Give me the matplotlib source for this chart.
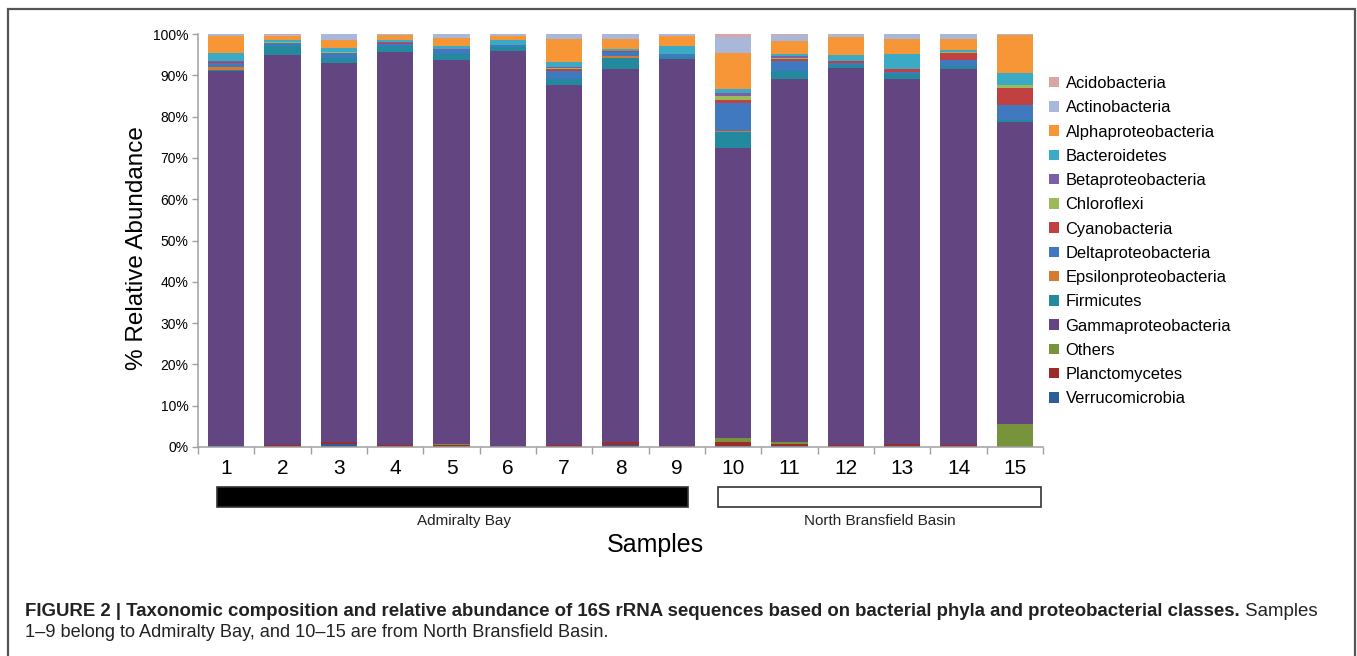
import matplotlib
matplotlib.use('Agg')
import matplotlib.pyplot as plt
import matplotlib.transforms as mtransforms
from matplotlib.patches import Patch, Rectangle
import numpy as np

plt.rcParams['font.family'] = ['Liberation Sans', 'DejaVu Sans']

# samples 1-15
samples = [str(i) for i in range(1, 16)]

# relative abundance (%) per taxon, bottom of the stack first
verrucomicrobia = [0.3, 0, 0.7, 0, 0, 0, 0, 0.5, 0, 0.3, 0.3, 0, 0.2, 0, 0]
planctomycetes = [0, 0.5, 0.4, 0.4, 0.5, 0, 0.4, 0.6, 0.3, 0.8, 0.5, 0.6, 0.5, 0.5, 0]
others = [0, 0, 0, 0, 0.3, 0, 0, 0, 0, 1.1, 0.3, 0, 0, 0, 5.5]
gammaproteobacteria = [90.7, 94.3, 91.9, 95.2, 92.8, 95.8, 87.3, 90.5, 93.6, 70.2, 88.0, 91.2, 88.4, 91.1, 73.3]
firmicutes = [0.3, 2.2, 1.2, 1.4, 1.5, 1.0, 1.5, 2.7, 0.6, 3.9, 2.0, 0.8, 1.1, 0.6, 0.4]
epsilonproteobacteria = [0.6, 0, 0, 0, 0, 0, 0, 0.4, 0, 0.1, 0, 0, 0, 0, 0]
deltaproteobacteria = [1.1, 0.7, 1.2, 0.6, 1.0, 0.5, 1.8, 1.0, 0.6, 6.9, 2.4, 0.4, 0.7, 1.4, 3.5]
cyanobacteria = [0.2, 0, 0, 0.2, 0, 0, 0.5, 0.1, 0, 0.6, 0.5, 0.4, 0.6, 1.8, 4.3]
chloroflexi = [0, 0.3, 0.25, 0, 0, 0, 0.3, 0.1, 0, 1.2, 0.3, 0, 0, 0.3, 0.6]
betaproteobacteria = [0.3, 0.1, 0, 0.2, 0.3, 0, 0.1, 0, 0, 0.5, 0.3, 0, 0, 0, 0]
bacteroidetes = [1.9, 0.4, 1.0, 0.6, 0.7, 1.2, 1.4, 0.4, 2.1, 1.0, 0.6, 1.5, 3.6, 0.4, 2.9]
alphaproteobacteria = [4.0, 1.0, 2.0, 1.2, 2.0, 1.0, 5.6, 2.6, 2.2, 8.8, 3.2, 4.4, 3.7, 2.7, 9.3]
actinobacteria = [0.5, 0.3, 1.25, 0.1, 0.8, 0.5, 1.1, 1.1, 0.6, 3.8, 1.3, 0.6, 1.1, 1.1, 0.1]
acidobacteria = [0.1, 0.2, 0.1, 0.1, 0.1, 0, 0, 0, 0, 0.8, 0.3, 0.1, 0.1, 0.1, 0.1]

taxa = ['Verrucomicrobia', 'Planctomycetes', 'Others', 'Gammaproteobacteria',
        'Firmicutes', 'Epsilonproteobacteria', 'Deltaproteobacteria',
        'Cyanobacteria', 'Chloroflexi', 'Betaproteobacteria', 'Bacteroidetes',
        'Alphaproteobacteria', 'Actinobacteria', 'Acidobacteria']
series = [verrucomicrobia, planctomycetes, others, gammaproteobacteria,
          firmicutes, epsilonproteobacteria, deltaproteobacteria,
          cyanobacteria, chloroflexi, betaproteobacteria, bacteroidetes,
          alphaproteobacteria, actinobacteria, acidobacteria]
colors = ['#2C5C9A', '#9C2B2A', '#77933C', '#634581',
          '#23899F', '#D77A2E', '#4079BF',
          '#C0413F', '#9BBB59', '#7D5FA5', '#3BAAC5',
          '#F79636', '#A9B8DA', '#D9A5A7']

# sample groups: label, first sample, last sample
groups = [('Admiralty Bay', 1, 9), ('North Bransfield Basin', 10, 15)]

W, H = 1357, 656
fig = plt.figure(figsize=(W / 100, H / 100), dpi=100)
ax = fig.add_axes([198 / W, 209 / H, 845 / W, 413 / H])

x = np.arange(1, len(samples) + 1)
bottom = np.zeros(len(samples))
for name, vals, c in zip(taxa, series, colors):
    vals = np.array(vals, dtype=float)
    ax.bar(x, vals, width=0.64, bottom=bottom, color=c, label=name,
           edgecolor='none')
    bottom += vals

ax.set_xlim(0.5, len(samples) + 0.5)
ax.set_ylim(0, 100)
ax.set_yticks(np.arange(0, 101, 10))
ax.set_yticklabels([f'{v}%' for v in range(0, 101, 10)], fontsize=10)
ax.set_xticks(x)
ax.set_xticklabels(samples, fontsize=15)
ax.set_xticks(np.arange(0.5, len(samples) + 1), minor=True)
ax.tick_params(axis='x', which='major', length=0, pad=9)
ax.tick_params(axis='x', which='minor', length=5, color='#A0A0A0', width=1)
ax.tick_params(axis='y', length=4, color='#A0A0A0', width=1, pad=3)
for s in ['top', 'right']:
    ax.spines[s].set_visible(False)
for s in ['left', 'bottom']:
    ax.spines[s].set_color('#A0A0A0')
    ax.spines[s].set_linewidth(1.1)

# group bars under the axis
trans = mtransforms.blended_transform_factory(ax.transData, fig.transFigure)
spans = [(0.84, 9.2), (9.73, 15.46)]
for (label, first, last), (x0, x1), fc in zip(groups, spans, ['black', 'white']):
    ax.add_patch(Rectangle((x0, (H - 507) / H), x1 - x0, 20 / H,
                           transform=trans, facecolor=fc, edgecolor='#333333',
                           linewidth=1.2, clip_on=False))
    ax.text((x0 + x1) / 2 + (0.2 if first == 1 else 0), (H - 521) / H, label,
            transform=trans, ha='center', va='center', fontsize=11,
            color='#222222')

fig.text(655 / W, (H - 545) / H, 'Samples', ha='center', va='center',
         fontsize=18)
fig.text(137 / W, (H - 248) / H, '% Relative Abundance', rotation=90,
         ha='center', va='center', fontsize=17.5)

handles = [Patch(facecolor=c, edgecolor='none', label=n)
           for n, c in zip(taxa, colors)][::-1]
ax.legend(handles=handles, loc='upper left', frameon=False,
          bbox_to_anchor=(1049 / W, (H - 76) / H),
          bbox_transform=fig.transFigure, fontsize=11.9,
          handlelength=0.6, handleheight=0.6, handletextpad=0.4,
          labelspacing=0.56, borderpad=0, borderaxespad=0)

# caption
t1 = fig.text(25 / W, (H - 616) / H,
              'FIGURE 2 | Taxonomic composition and relative abundance of 16S '
              'rRNA sequences based on bacterial phyla and proteobacterial classes.',
              fontsize=13.45, fontweight='bold', va='baseline', color='#222222')
ax.annotate(' Samples', xy=(1, 0), xycoords=t1, va='bottom', ha='left',
            fontsize=13.45, color='#222222', annotation_clip=False)
fig.text(25 / W, (H - 637) / H,
         '1\u20139 belong to Admiralty Bay, and 10\u201315 are from North '
         'Bransfield Basin.', fontsize=13.1, va='baseline', color='#222222')

# frame around the figure
fig.add_artist(Rectangle((8 / W, -0.1), (1355 - 8) / W, (H - 9) / H + 0.1,
                         transform=fig.transFigure, fill=False,
                         edgecolor='#555555', linewidth=1.6))

fig.savefig('out.png', dpi=100)
